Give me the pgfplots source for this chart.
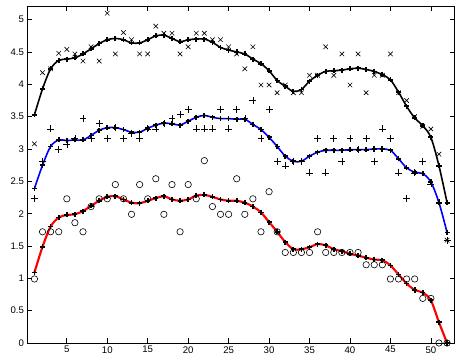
\documentclass[border=0pt]{standalone}
\usepackage{pgfplots}
\pgfplotsset{compat=1.18}
\usepackage{pgfplotstable}
\usepackage{fontspec}
\setmainfont{Liberation Sans}

\pgfplotstableread{
x top topl mid midl bot botl
1 3.08 3.53 2.23 2.39 0.99 1.09
2 4.18 3.93 2.81 2.75 1.72 1.49
3 4.24 4.24 3.31 3.04 1.72 1.80
4 4.48 4.37 2.99 3.14 1.72 1.94
5 4.54 4.39 3.07 3.13 2.23 1.98
6 4.47 4.41 3.16 3.14 1.86 1.99
7 4.36 4.47 3.47 3.14 1.72 2.04
8 4.58 4.55 3.16 3.21 2.11 2.12
9 4.36 4.63 3.39 3.29 2.23 2.20
10 5.10 4.69 3.16 3.33 2.23 2.26
11 4.47 4.71 3.33 3.33 2.45 2.27
12 4.80 4.69 3.16 3.30 2.23 2.22
13 4.69 4.64 3.24 3.26 1.99 2.17
14 4.47 4.64 3.16 3.26 2.45 2.16
15 4.47 4.69 3.31 3.32 2.23 2.20
16 4.90 4.75 3.31 3.37 2.54 2.24
17 4.79 4.76 3.39 3.40 1.99 2.27
18 4.79 4.71 3.47 3.39 2.45 2.22
19 4.47 4.66 3.53 3.37 1.72 2.20
20 4.58 4.69 3.61 3.43 2.45 2.22
21 4.79 4.70 3.31 3.49 2.23 2.28
22 4.79 4.70 3.31 3.52 2.82 2.29
23 4.69 4.65 3.31 3.49 2.11 2.26
24 4.69 4.57 3.61 3.47 1.99 2.22
25 4.58 4.53 3.31 3.47 1.99 2.20
26 4.47 4.50 3.61 3.46 2.54 2.20
27 4.24 4.47 3.47 3.46 1.99 2.17
28 4.58 4.39 3.75 3.38 2.23 2.11
29 3.99 4.32 3.16 3.30 1.72 2.02
30 3.99 4.21 3.61 3.18 2.34 1.87
31 3.87 4.06 2.81 3.04 1.72 1.72
32 3.99 3.97 2.74 2.89 1.40 1.56
33 3.87 3.89 2.81 2.81 1.40 1.45
34 3.87 3.92 2.81 2.81 1.40 1.45
35 4.14 4.05 2.63 2.89 1.40 1.48
36 4.14 4.14 3.16 2.95 1.72 1.53
37 4.58 4.20 2.63 2.98 1.40 1.51
38 4.14 4.21 3.16 2.98 1.40 1.45
39 4.47 4.22 2.81 2.98 1.40 1.42
40 3.99 4.24 3.16 2.99 1.40 1.38
41 4.47 4.25 2.99 2.99 1.40 1.35
42 3.87 4.23 3.16 2.99 1.21 1.32
43 4.14 4.20 2.81 3.00 1.21 1.29
44 4.14 4.15 3.31 3.00 1.21 1.28
45 4.47 4.07 3.16 2.98 0.99 1.20
46 3.87 3.88 2.63 2.85 0.99 1.06
47 3.75 3.66 2.23 2.71 0.99 0.92
48 3.50 3.48 2.63 2.64 0.99 0.82
49 3.35 3.36 2.81 2.62 0.69 0.78
50 3.31 3.18 2.46 2.49 0.69 0.66
51 2.92 2.74 2.17 2.17 0.00 0.32
52 1.59 2.17 1.59 1.71 0.00 0.00
}\datatab

\begin{document}
\begin{tikzpicture}
\begin{axis}[
  at={(0,0)}, anchor=south west,
  scale only axis,
  width=320.25pt, height=252.2pt,
  xmin=0.12, xmax=52.9, ymin=0, ymax=5.2,
  xtick={5,10,...,50},
  ytick={0,0.5,...,5},
  yticklabel style={/pgf/number format/fixed,/pgf/number format/precision=1},
  tick align=inside,
  major tick length=3.5pt,
  tick style={black, line width=0.5pt},
  axis line style={line width=0.5pt},
  every tick label/.append style={font=\fontsize{7.2}{8}\selectfont},
  /pgf/number format/assume math mode=true,
  xticklabel style={yshift=1pt},
  yticklabel style={xshift=1pt},
  clip=true,
]
% scatter
\addplot[only marks, mark=x, mark size=2.4pt, mark options={line width=0.45pt, black}] table[x=x,y=top] {\datatab};
\addplot[only marks, mark=+, mark size=2.6pt, mark options={line width=0.45pt, black}] table[x=x,y=mid] {\datatab};
\addplot[only marks, mark=o, mark size=2.4pt, mark options={line width=0.45pt, black}] table[x=x,y=bot] {\datatab};
% smoothed lines
\addplot[black, line width=1.2pt, smooth, tension=0.5, mark=+, mark size=1.9pt, mark options={black, line width=1.3pt}] table[x=x,y=topl] {\datatab};
\addplot[blue, line width=1.2pt, smooth, tension=0.5, mark=+, mark size=1.9pt, mark options={black, line width=1.3pt}] table[x=x,y=midl] {\datatab};
\addplot[red, line width=1.6pt, smooth, tension=0.5, mark=+, mark size=1.9pt, mark options={black, line width=1.3pt}] table[x=x,y=botl] {\datatab};
\end{axis}
\pgfresetboundingbox
\path (-20.5pt,-12.75pt) rectangle (326.75pt,257.25pt);
\end{tikzpicture}
\end{document}
